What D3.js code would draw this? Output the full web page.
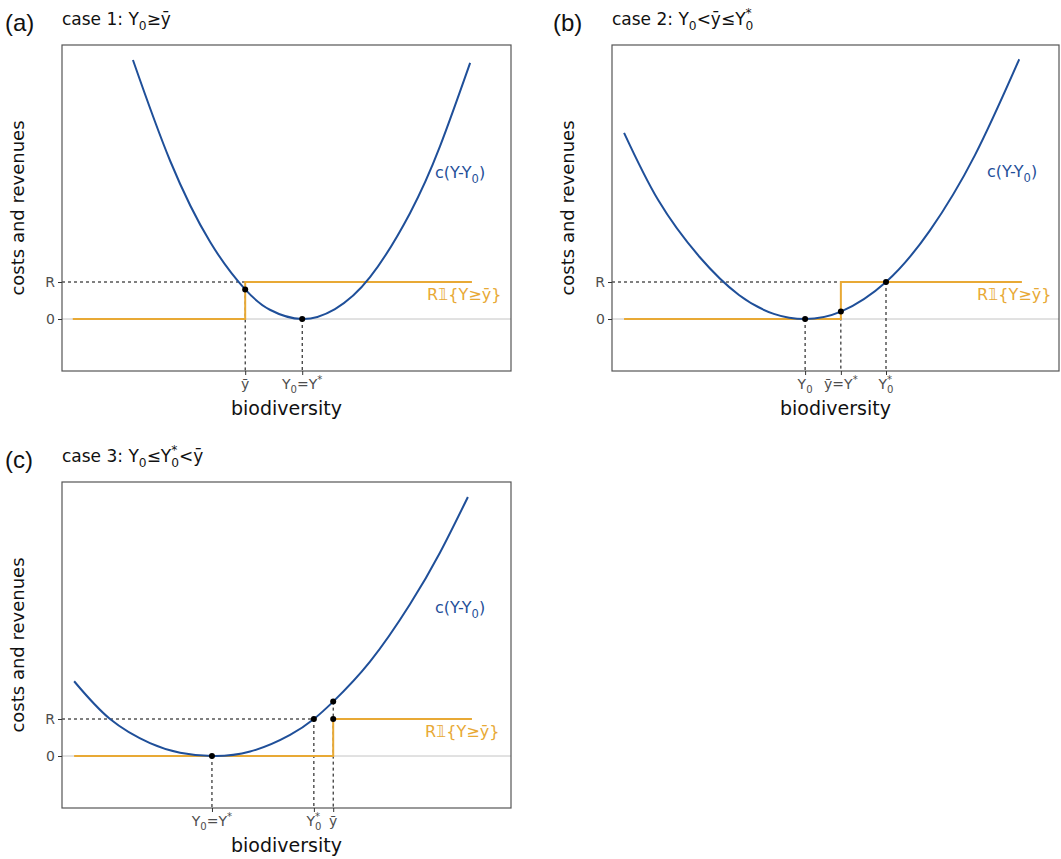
<!DOCTYPE html>
<html><head><meta charset="utf-8">
<script src="https://cdn.jsdelivr.net/npm/d3@7"></script>
<style>body{margin:0;background:#fff;} svg{display:block;}</style>
</head><body>
<script>
// ---------- data (x: biodiversity, 0..100 across panel; y: cost/revenue, R = 1) ----------
const R = 1;
const costA = [[15.8,7.0],[24.1,4.27],[33.0,2.08],[40.8,0.80],[46.3,0.25],[53.5,0],[60.8,0.27],[68.6,1.13],[77.5,2.86],[84.2,4.67],[90.9,6.92]];
const stepA = [[2.4,0],[40.8,0],[40.8,1],[91.3,1]];
const dotsA = [[40.8,0.80],[53.5,0]];
const ticksA = [40.8,53.5];
const dashRA = 40.8;

const costB = [[2.7,5.03],[10.3,3.22],[19.5,1.69],[28.4,0.65],[36.2,0.14],[43.2,0],[51.2,0.20],[61.3,1.0],[71.1,2.39],[81.2,4.43],[91.1,7.02]];
const stepB = [[2.7,0],[51.2,0],[51.2,1],[91.7,1]];
const dotsB = [[43.2,0],[51.2,0.20],[61.3,1.0]];
const ticksB = [43.2,51.2,61.3];
const dashRB = 61.3;

const costC = [[2.7,2.02],[10.7,1.0],[19.6,0.35],[26.3,0.09],[33.4,0],[41.9,0.12],[50.8,0.57],[56.1,1.0],[60.4,1.47],[68.6,2.55],[77.5,4.1],[84.2,5.5],[90.4,7.0]];
const stepC = [[2.7,0],[60.4,0],[60.4,1],[91.3,1]];
const dotsC = [[33.4,0],[56.1,1.0],[60.4,1.47],[60.4,1]];
const ticksC = [33.4,56.1,60.4];
const dashRC = 56.1;

const yTicks = [0, R];
const yTickLabels = ["0","R"];

// rich-text parts: [text, mode] mode: n normal, sub, sup, both(sup,sub)
const tickLabelsA = [[["ȳ","n"]], [["Y","n"],["0","sub"],["=Y","n"],["*","sup"]]];
const tickLabelsB = [[["Y","n"],["0","sub"]], [["ȳ=Y","n"],["*","sup"]], [["Y","n"],["*","0","both"]]];
const tickLabelsC = [[["Y","n"],["0","sub"],["=Y","n"],["*","sup"]], [["Y","n"],["*","0","both"]], [["ȳ","n"]]];
const titleA = [["case 1: Y","n"],["0","sub"],["≥ȳ","n"]];
const titleB = [["case 2: Y","n"],["0","sub"],["<ȳ≤Y","n"],["*","0","both"]];
const titleC = [["case 3: Y","n"],["0","sub"],["≤Y","n"],["*","0","both"],["<ȳ","n"]];
const costLabel = [["c(Y-Y","n"],["0","sub"],[")","n"]];
const revLabel = [["R𝟙{Y≥ȳ}","n"]];

// ---------- layout ----------
const BLUE = "#1f4f99", ORANGE = "#e8a935", GREY = "#4d4d4d";
const panels = [
  {id:"(a)", x0:62, x1:511, y0:45, y1:371, cost:costA, step:stepA, dots:dotsA, ticks:ticksA, tl:tickLabelsA, dashR:dashRA, title:titleA, lx:5, cl:[435,178], rl:[427,300]},
  {id:"(b)", x0:612, x1:1059, y0:45, y1:371, cost:costB, step:stepB, dots:dotsB, ticks:ticksB, tl:tickLabelsB, dashR:dashRB, title:titleB, lx:553, cl:[987,177], rl:[977,300]},
  {id:"(c)", x0:62, x1:511, y0:482, y1:808, cost:costC, step:stepC, dots:dotsC, ticks:ticksC, tl:tickLabelsC, dashR:dashRC, title:titleC, lx:5, cl:[435,613], rl:[425,737]}
];

const svg = d3.select("body").append("svg").attr("width",1061).attr("height",859);

function rich(sel, parts, fs){
  let off = 0;
  parts.forEach(p=>{
    if(p[p.length-1]==="n"){
      sel.append("tspan").attr("dy",-off).attr("font-size",fs).text(p[0]); off=0;
    } else if(p[1]==="sub"){
      const d = fs*0.3; sel.append("tspan").attr("dy",d-off).attr("font-size",fs*0.72).text(p[0]); off=d;
    } else if(p[1]==="sup"){
      const d = -fs*0.45; sel.append("tspan").attr("dy",d-off).attr("font-size",fs*0.72).text(p[0]); off=d;
    } else if(p[2]==="both"){
      const d1=-fs*0.45, d2=fs*0.3;
      sel.append("tspan").attr("dy",d1-off).attr("font-size",fs*0.72).text(p[0]);
      sel.append("tspan").attr("dx",-fs*0.72*0.5).attr("dy",d2-d1).attr("font-size",fs*0.72).text(p[1]);
      off=d2;
    }
  });
}

panels.forEach(P=>{
  const x = d3.scaleLinear().domain([0,100]).range([P.x0,P.x1]);
  const y = d3.scaleLinear().domain([-1.405,7.405]).range([P.y1,P.y0]);
  const g = svg.append("g");

  // zero line
  g.append("line").attr("x1",P.x0).attr("x2",P.x1).attr("y1",y(0)).attr("y2",y(0))
    .attr("stroke","#c4c4c4").attr("stroke-width",1);

  // dashed R line
  g.append("line").attr("x1",P.x0).attr("x2",x(P.dashR)).attr("y1",y(R)).attr("y2",y(R))
    .attr("stroke","#000").attr("stroke-width",1).attr("stroke-dasharray","3,3");

  // dashed verticals from the highest dot at each x
  const tops = d3.rollups(P.dots, v=>d3.max(v,d=>d[1]), d=>d[0]);
  tops.forEach(([dx,dy])=>{
    g.append("line").attr("x1",x(dx)).attr("x2",x(dx)).attr("y1",y(dy)).attr("y2",P.y1)
      .attr("stroke","#000").attr("stroke-width",1).attr("stroke-dasharray","3,3");
  });

  // step revenue
  g.append("path").datum(P.step)
    .attr("d",d3.line().x(d=>x(d[0])).y(d=>y(d[1])))
    .attr("fill","none").attr("stroke",ORANGE).attr("stroke-width",2);

  // cost curve
  g.append("path").datum(P.cost)
    .attr("d",d3.line().x(d=>x(d[0])).y(d=>y(d[1])).curve(d3.curveNatural))
    .attr("fill","none").attr("stroke",BLUE).attr("stroke-width",2);

  // dots
  g.selectAll("circle.dot").data(P.dots).join("circle")
    .attr("cx",d=>x(d[0])).attr("cy",d=>y(d[1])).attr("r",3).attr("fill","#000");

  // box
  g.append("rect").attr("x",P.x0).attr("y",P.y0).attr("width",P.x1-P.x0).attr("height",P.y1-P.y0)
    .attr("fill","none").attr("stroke","#555").attr("stroke-width",1.2);

  // y axis ticks
  const ya = d3.axisLeft(y).tickValues(yTicks).tickFormat((d,i)=>yTickLabels[i]).tickSize(4).tickPadding(3);
  const yg = g.append("g").attr("transform",`translate(${P.x0},0)`).call(ya);
  yg.select(".domain").remove();
  yg.selectAll("line").attr("stroke","#333");
  yg.selectAll("text").attr("font-family","DejaVu Sans").attr("font-size",14).attr("fill",GREY);

  // x axis ticks
  const xa = d3.axisBottom(x).tickValues(P.ticks).tickFormat("").tickSize(4);
  const xg = g.append("g").attr("transform",`translate(0,${P.y1})`).call(xa);
  xg.select(".domain").remove();
  xg.selectAll("line").attr("stroke","#333");
  P.ticks.forEach((t,i)=>{
    const tx = g.append("text").attr("x",x(t)).attr("y",P.y1+18).attr("text-anchor","middle")
      .attr("font-family","DejaVu Sans").attr("fill",GREY);
    rich(tx, P.tl[i], 14);
  });

  // axis titles
  g.append("text").attr("x",(P.x0+P.x1)/2).attr("y",P.y1+44).attr("text-anchor","middle")
    .attr("font-family","DejaVu Sans").attr("font-size",19).attr("fill","#111").text("biodiversity");
  g.append("text").attr("transform",`translate(${P.x0-38},${(P.y0+P.y1)/2}) rotate(-90)`)
    .attr("text-anchor","middle").attr("font-family","DejaVu Sans").attr("font-size",18).attr("fill","#111")
    .text("costs and revenues");

  // panel label and title
  g.append("text").attr("x",P.lx).attr("y",P.y0-14).attr("font-family","Liberation Sans").attr("font-size",24)
    .attr("fill","#111").text(P.id);
  const tt = g.append("text").attr("x",P.x0).attr("y",P.y0-20).attr("font-family","DejaVu Sans").attr("fill","#111");
  rich(tt, P.title, 17);

  // curve labels
  const cl = g.append("text").attr("x",P.cl[0]).attr("y",P.cl[1]).attr("font-family","DejaVu Sans").attr("fill",BLUE);
  rich(cl, costLabel, 16);
  const rl = g.append("text").attr("x",P.rl[0]).attr("y",P.rl[1]).attr("font-family","DejaVu Sans").attr("fill",ORANGE);
  rich(rl, revLabel, 16);
});
</script>
</body></html>
